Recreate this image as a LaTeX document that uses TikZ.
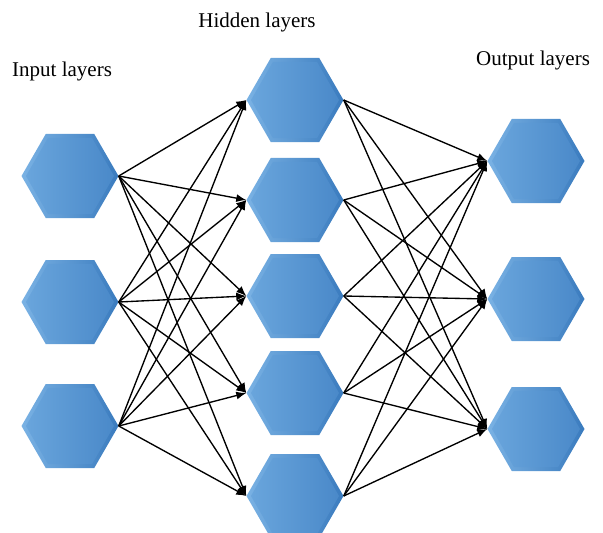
\documentclass[tikz,border=0pt]{standalone}
\usepackage{fontspec}
\setmainfont{Liberation Serif}
\usetikzlibrary{shapes.geometric,arrows.meta}
\definecolor{hexL}{HTML}{7AB2E4}
\definecolor{hexR}{HTML}{3A7BBE}
\definecolor{hexIL}{HTML}{69A5DC}
\definecolor{hexIR}{HTML}{4A89C9}
\tikzset{
  hexa/.style={regular polygon, regular polygon sides=6, minimum size=97pt,
    inner sep=0pt, draw=none, left color=hexL, right color=hexR,
    path picture={\node[regular polygon, regular polygon sides=6, minimum size=88pt,
      inner sep=0pt, draw=none, left color=hexIL, right color=hexIR]
      at (path picture bounding box.center) {};}},
  arr/.style={line width=1.35pt, black, -{Latex[length=10pt,width=8pt]}},
  lbl/.style={font=\fontsize{21}{24}\selectfont, inner sep=0pt, anchor=base west}
}
\begin{document}
\begin{tikzpicture}[x=1pt,y=-1pt]
\useasboundingbox (0,0) rectangle (603,533);
\clip (0,0) rectangle (603,533);
% labels
\node[lbl] (tin) at (12,76) {Input layers};
\node[lbl, anchor=base] (thid) at (257,27) {Hidden layers};
\node[lbl] (tout) at (476,65) {Output layers};
% input
\node[hexa] (i1) at (70,176) {};
\node[hexa] (i2) at (70,302) {};
\node[hexa] (i3) at (70,426) {};
% hidden
\node[hexa] (h1) at (295,100) {};
\node[hexa] (h2) at (295,200) {};
\node[hexa] (h3) at (295,296) {};
\node[hexa] (h4) at (295,393) {};
\node[hexa] (h5) at (295,496) {};
% output
\node[hexa] (o1) at (536,161) {};
\node[hexa] (o2) at (536,299) {};
\node[hexa] (o3) at (536,429) {};
% connectors
\foreach \i in {1,2,3}{
  \foreach \h in {1,...,5}{
    \draw[arr] (i\i.east) -- (h\h.west);
  }
}
\foreach \h in {1,...,5}{
  \foreach \o in {1,2,3}{
    \draw[arr] (h\h.east) -- (o\o.west);
  }
}
\end{tikzpicture}
\end{document}
